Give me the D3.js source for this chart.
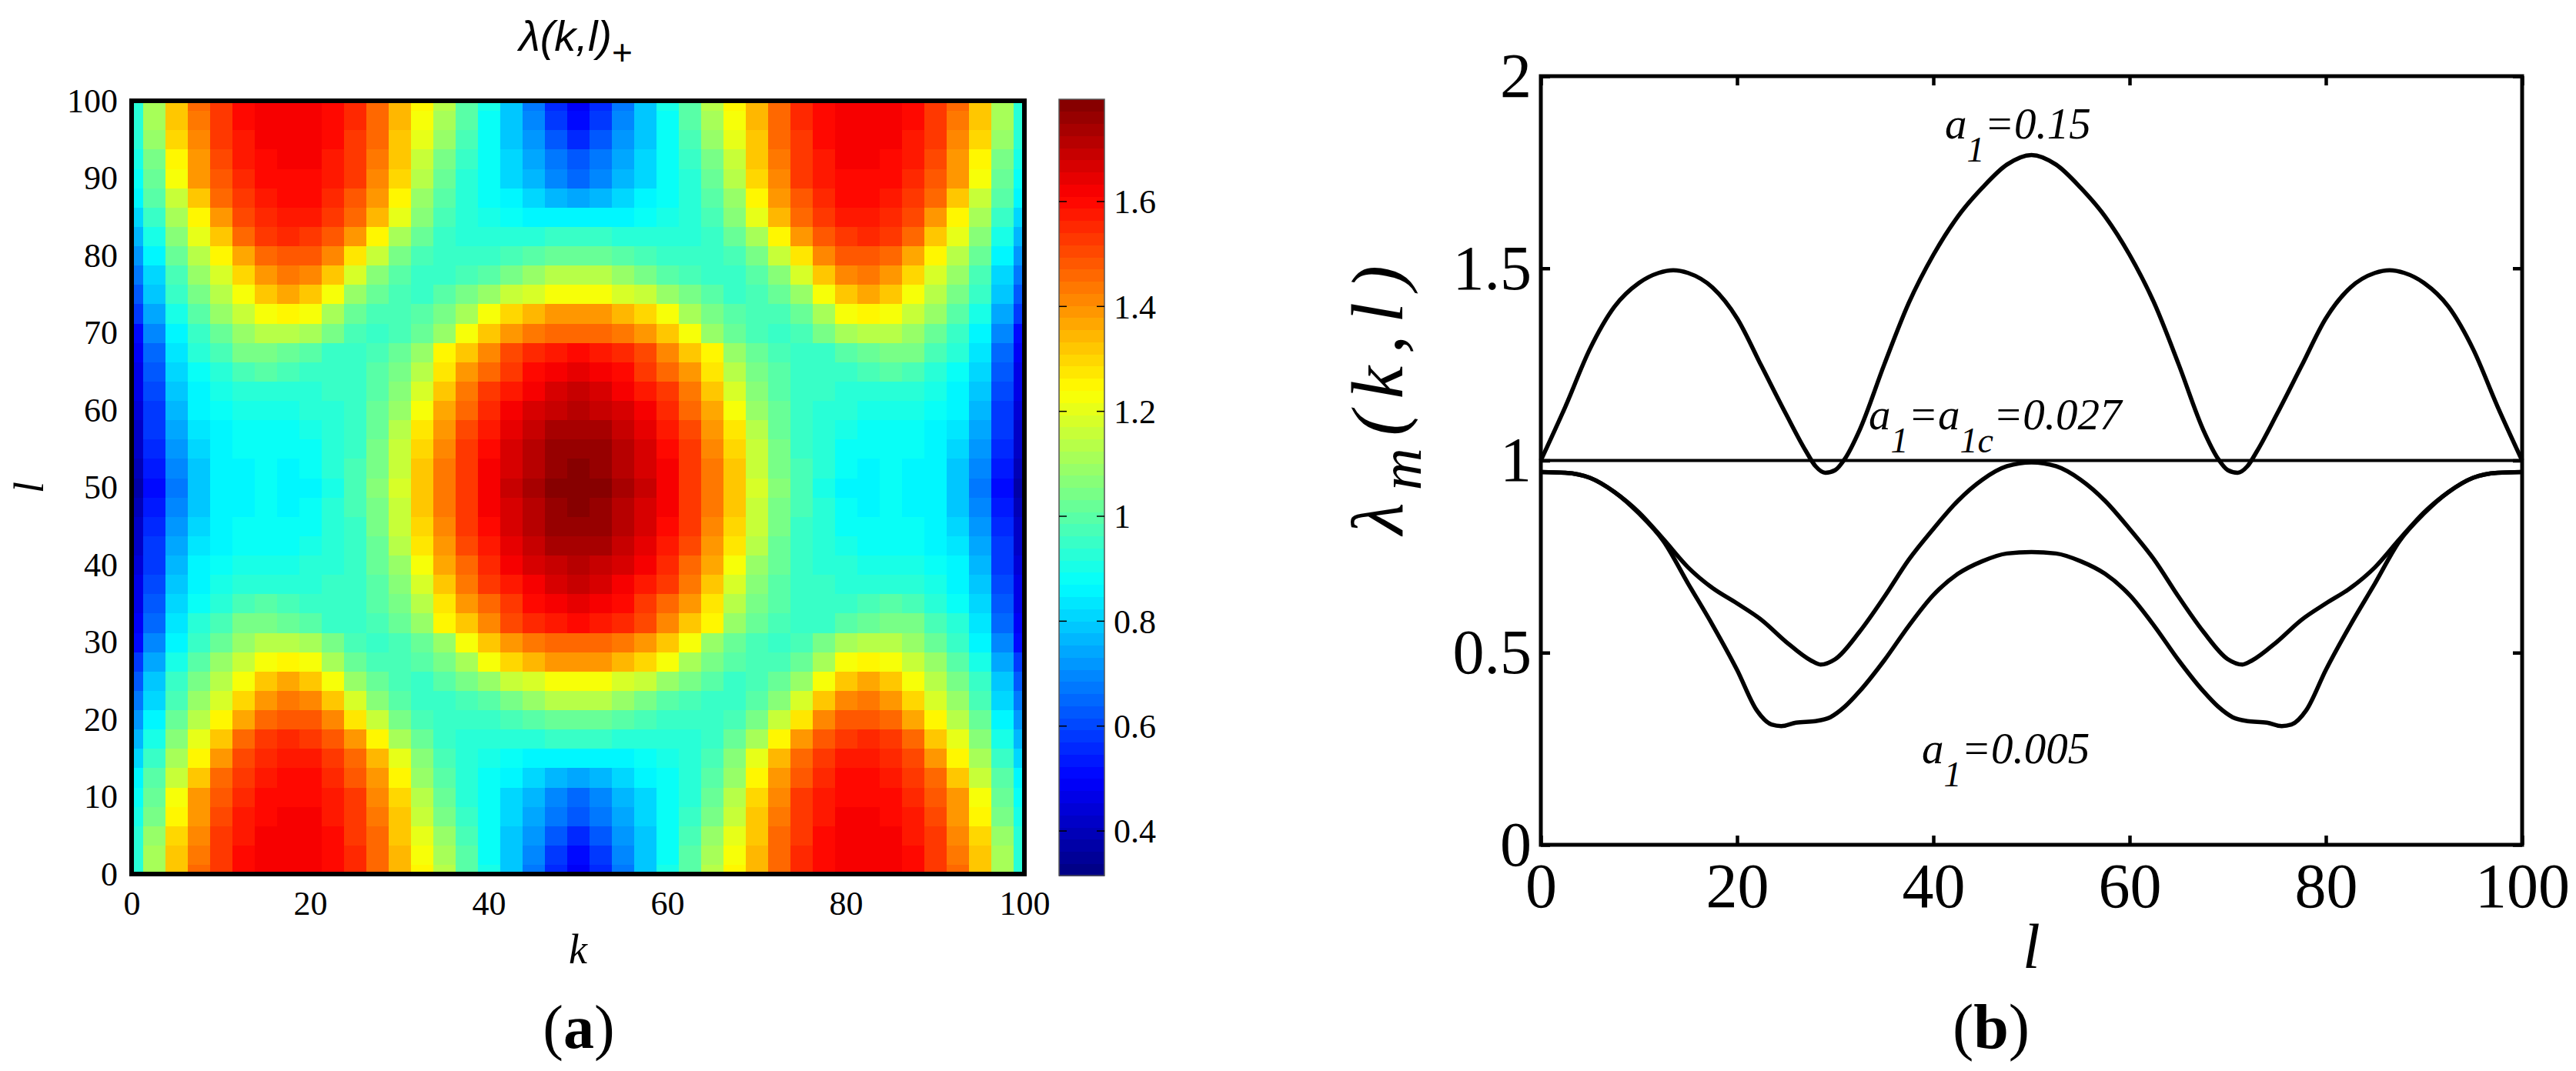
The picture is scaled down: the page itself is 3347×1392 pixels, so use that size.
<!DOCTYPE html>
<html>
<head>
<meta charset="utf-8">
<script src="https://cdn.jsdelivr.net/npm/d3@7"></script>
<style>
  body { margin: 0; background: #fff; }
  svg text { font-family: "Liberation Serif", "Times New Roman", serif; fill: #000; }
</style>
</head>
<body>
<svg id="fig" width="3347" height="1392"></svg>
<script>
// ---------- data: panel (a), lambda(k,l)+ ----------
const kValues = [0, 2.5, 5, 7.5, 10, 12.5, 15, 17.5, 20, 22.5, 25, 27.5, 30, 32.5, 35, 37.5, 40, 42.5, 45, 47.5, 50,
  52.5, 55, 57.5, 60, 62.5, 65, 67.5, 70, 72.5, 75, 77.5, 80, 82.5, 85, 87.5, 90, 92.5, 95, 97.5, 100];
const lValues = [0, 2.5, 5, 7.5, 10, 12.5, 15, 17.5, 20, 22.5, 25, 27.5, 30, 32.5, 35, 37.5, 40, 42.5, 45, 47.5, 50,
  52.5, 55, 57.5, 60, 62.5, 65, 67.5, 70, 72.5, 75, 77.5, 80, 82.5, 85, 87.5, 90, 92.5, 95, 97.5, 100];
// one row per l value (l = 0 first), one column per k value
const lambdaGrid = [
  [0.93,1.12,1.33,1.45,1.53,1.59,1.61,1.62,1.62,1.60,1.55,1.47,1.35,1.24,1.13,1.00,0.90,0.78,0.67,0.55,0.49,0.55,0.67,0.78,0.90,1.00,1.13,1.24,1.35,1.47,1.55,1.60,1.62,1.62,1.61,1.59,1.53,1.45,1.33,1.12,0.93],
  [0.93,1.11,1.32,1.44,1.53,1.59,1.61,1.62,1.62,1.60,1.55,1.46,1.34,1.22,1.11,0.99,0.89,0.79,0.69,0.58,0.52,0.58,0.69,0.79,0.89,0.99,1.11,1.22,1.34,1.46,1.55,1.60,1.62,1.62,1.61,1.59,1.53,1.44,1.32,1.11,0.93],
  [0.92,1.09,1.30,1.42,1.52,1.58,1.61,1.62,1.61,1.59,1.54,1.45,1.33,1.20,1.08,0.97,0.89,0.80,0.71,0.62,0.56,0.62,0.71,0.80,0.89,0.97,1.08,1.20,1.33,1.45,1.54,1.59,1.61,1.62,1.61,1.58,1.52,1.42,1.30,1.09,0.92],
  [0.90,1.05,1.26,1.40,1.50,1.57,1.60,1.61,1.61,1.58,1.53,1.44,1.31,1.16,1.04,0.95,0.88,0.81,0.74,0.67,0.62,0.67,0.74,0.81,0.88,0.95,1.04,1.16,1.31,1.44,1.53,1.58,1.61,1.61,1.60,1.57,1.50,1.40,1.26,1.05,0.90],
  [0.88,1.03,1.22,1.38,1.48,1.56,1.59,1.60,1.60,1.58,1.52,1.42,1.30,1.14,1.02,0.93,0.88,0.82,0.76,0.70,0.66,0.70,0.76,0.82,0.88,0.93,1.02,1.14,1.30,1.42,1.52,1.58,1.60,1.60,1.59,1.56,1.48,1.38,1.22,1.03,0.88],
  [0.85,0.99,1.17,1.33,1.45,1.54,1.58,1.59,1.59,1.56,1.49,1.38,1.25,1.10,0.99,0.92,0.89,0.85,0.81,0.77,0.75,0.77,0.81,0.85,0.89,0.92,0.99,1.10,1.25,1.38,1.49,1.56,1.59,1.59,1.58,1.54,1.45,1.33,1.17,0.99,0.85],
  [0.81,0.94,1.11,1.26,1.40,1.50,1.56,1.58,1.58,1.54,1.46,1.34,1.20,1.06,0.97,0.93,0.90,0.88,0.87,0.86,0.85,0.86,0.87,0.88,0.90,0.93,0.97,1.06,1.20,1.34,1.46,1.54,1.58,1.58,1.56,1.50,1.40,1.26,1.11,0.94,0.81],
  [0.77,0.90,1.06,1.20,1.33,1.45,1.52,1.55,1.54,1.48,1.38,1.25,1.12,1.01,0.95,0.93,0.92,0.92,0.93,0.94,0.94,0.94,0.93,0.92,0.92,0.93,0.95,1.01,1.12,1.25,1.38,1.48,1.54,1.55,1.52,1.45,1.33,1.20,1.06,0.90,0.77],
  [0.72,0.86,1.02,1.14,1.24,1.37,1.45,1.49,1.49,1.41,1.27,1.15,1.05,0.98,0.95,0.94,0.95,0.97,0.99,1.01,1.03,1.01,0.99,0.97,0.95,0.94,0.95,0.98,1.05,1.15,1.27,1.41,1.49,1.49,1.45,1.37,1.24,1.14,1.02,0.86,0.72],
  [0.67,0.82,0.98,1.09,1.19,1.30,1.38,1.43,1.42,1.33,1.19,1.07,0.99,0.95,0.95,0.97,1.00,1.05,1.09,1.13,1.14,1.13,1.09,1.05,1.00,0.97,0.95,0.95,0.99,1.07,1.19,1.33,1.42,1.43,1.38,1.30,1.19,1.09,0.98,0.82,0.67],
  [0.62,0.78,0.94,1.04,1.14,1.23,1.32,1.36,1.33,1.23,1.10,1.01,0.97,0.96,0.99,1.04,1.10,1.15,1.19,1.22,1.23,1.22,1.19,1.15,1.10,1.04,0.99,0.96,0.97,1.01,1.10,1.23,1.33,1.36,1.32,1.23,1.14,1.04,0.94,0.78,0.62],
  [0.57,0.74,0.90,0.99,1.08,1.16,1.23,1.26,1.22,1.12,1.03,0.98,0.97,0.99,1.05,1.12,1.22,1.30,1.35,1.38,1.39,1.38,1.35,1.30,1.22,1.12,1.05,0.99,0.97,0.98,1.03,1.12,1.22,1.26,1.23,1.16,1.08,0.99,0.90,0.74,0.57],
  [0.52,0.70,0.86,0.95,1.02,1.09,1.13,1.14,1.11,1.04,0.98,0.96,0.98,1.03,1.10,1.22,1.32,1.40,1.44,1.46,1.47,1.46,1.44,1.40,1.32,1.22,1.10,1.03,0.98,0.96,0.98,1.04,1.11,1.14,1.13,1.09,1.02,0.95,0.86,0.70,0.52],
  [0.49,0.66,0.84,0.92,0.98,1.04,1.05,1.03,0.99,0.96,0.96,0.98,1.02,1.10,1.24,1.33,1.42,1.50,1.55,1.57,1.59,1.57,1.55,1.50,1.42,1.33,1.24,1.10,1.02,0.98,0.96,0.96,0.99,1.03,1.05,1.04,0.98,0.92,0.84,0.66,0.49],
  [0.47,0.63,0.82,0.89,0.93,0.97,0.99,0.97,0.95,0.95,0.96,0.99,1.04,1.14,1.27,1.38,1.46,1.54,1.60,1.63,1.64,1.63,1.60,1.54,1.46,1.38,1.27,1.14,1.04,0.99,0.96,0.95,0.95,0.97,0.99,0.97,0.93,0.89,0.82,0.63,0.47],
  [0.46,0.61,0.80,0.87,0.90,0.92,0.93,0.93,0.93,0.94,0.96,1.00,1.07,1.19,1.32,1.43,1.52,1.58,1.63,1.67,1.68,1.67,1.63,1.58,1.52,1.43,1.32,1.19,1.07,1.00,0.96,0.94,0.93,0.93,0.93,0.92,0.90,0.87,0.80,0.61,0.46],
  [0.45,0.59,0.77,0.85,0.88,0.90,0.91,0.91,0.92,0.93,0.96,1.01,1.10,1.23,1.36,1.47,1.56,1.61,1.66,1.70,1.71,1.70,1.66,1.61,1.56,1.47,1.36,1.23,1.10,1.01,0.96,0.93,0.92,0.91,0.91,0.90,0.88,0.85,0.77,0.59,0.45],
  [0.43,0.57,0.75,0.84,0.87,0.89,0.89,0.89,0.90,0.92,0.96,1.03,1.13,1.27,1.39,1.50,1.58,1.64,1.69,1.73,1.74,1.73,1.69,1.64,1.58,1.50,1.39,1.27,1.13,1.03,0.96,0.92,0.90,0.89,0.89,0.89,0.87,0.84,0.75,0.57,0.43],
  [0.42,0.55,0.72,0.82,0.86,0.88,0.88,0.88,0.89,0.92,0.96,1.04,1.15,1.29,1.42,1.52,1.60,1.66,1.71,1.75,1.76,1.75,1.71,1.66,1.60,1.52,1.42,1.29,1.15,1.04,0.96,0.92,0.89,0.88,0.88,0.88,0.86,0.82,0.72,0.55,0.42],
  [0.40,0.53,0.69,0.80,0.85,0.87,0.88,0.87,0.88,0.92,0.97,1.05,1.17,1.31,1.43,1.53,1.61,1.67,1.72,1.77,1.78,1.77,1.72,1.67,1.61,1.53,1.43,1.31,1.17,1.05,0.97,0.92,0.88,0.87,0.88,0.87,0.85,0.80,0.69,0.53,0.40],
  [0.38,0.52,0.67,0.79,0.85,0.87,0.88,0.87,0.87,0.91,0.97,1.06,1.18,1.32,1.44,1.54,1.61,1.68,1.73,1.78,1.79,1.78,1.73,1.68,1.61,1.54,1.44,1.32,1.18,1.06,0.97,0.91,0.87,0.87,0.88,0.87,0.85,0.79,0.67,0.52,0.38],
  [0.40,0.53,0.69,0.80,0.85,0.87,0.88,0.87,0.88,0.92,0.97,1.05,1.17,1.31,1.43,1.53,1.61,1.67,1.72,1.77,1.78,1.77,1.72,1.67,1.61,1.53,1.43,1.31,1.17,1.05,0.97,0.92,0.88,0.87,0.88,0.87,0.85,0.80,0.69,0.53,0.40],
  [0.42,0.55,0.72,0.82,0.86,0.88,0.88,0.88,0.89,0.92,0.96,1.04,1.15,1.29,1.42,1.52,1.60,1.66,1.71,1.75,1.76,1.75,1.71,1.66,1.60,1.52,1.42,1.29,1.15,1.04,0.96,0.92,0.89,0.88,0.88,0.88,0.86,0.82,0.72,0.55,0.42],
  [0.43,0.57,0.75,0.84,0.87,0.89,0.89,0.89,0.90,0.92,0.96,1.03,1.13,1.27,1.39,1.50,1.58,1.64,1.69,1.73,1.74,1.73,1.69,1.64,1.58,1.50,1.39,1.27,1.13,1.03,0.96,0.92,0.90,0.89,0.89,0.89,0.87,0.84,0.75,0.57,0.43],
  [0.45,0.59,0.77,0.85,0.88,0.90,0.91,0.91,0.92,0.93,0.96,1.01,1.10,1.23,1.36,1.47,1.56,1.61,1.66,1.70,1.71,1.70,1.66,1.61,1.56,1.47,1.36,1.23,1.10,1.01,0.96,0.93,0.92,0.91,0.91,0.90,0.88,0.85,0.77,0.59,0.45],
  [0.46,0.61,0.80,0.87,0.90,0.92,0.93,0.93,0.93,0.94,0.96,1.00,1.07,1.19,1.32,1.43,1.52,1.58,1.63,1.67,1.68,1.67,1.63,1.58,1.52,1.43,1.32,1.19,1.07,1.00,0.96,0.94,0.93,0.93,0.93,0.92,0.90,0.87,0.80,0.61,0.46],
  [0.47,0.63,0.82,0.89,0.93,0.97,0.99,0.97,0.95,0.95,0.96,0.99,1.04,1.14,1.27,1.38,1.46,1.54,1.60,1.63,1.64,1.63,1.60,1.54,1.46,1.38,1.27,1.14,1.04,0.99,0.96,0.95,0.95,0.97,0.99,0.97,0.93,0.89,0.82,0.63,0.47],
  [0.49,0.66,0.84,0.92,0.98,1.04,1.05,1.03,0.99,0.96,0.96,0.98,1.02,1.10,1.24,1.33,1.42,1.50,1.55,1.57,1.59,1.57,1.55,1.50,1.42,1.33,1.24,1.10,1.02,0.98,0.96,0.96,0.99,1.03,1.05,1.04,0.98,0.92,0.84,0.66,0.49],
  [0.52,0.70,0.86,0.95,1.02,1.09,1.13,1.14,1.11,1.04,0.98,0.96,0.98,1.03,1.10,1.22,1.32,1.40,1.44,1.46,1.47,1.46,1.44,1.40,1.32,1.22,1.10,1.03,0.98,0.96,0.98,1.04,1.11,1.14,1.13,1.09,1.02,0.95,0.86,0.70,0.52],
  [0.57,0.74,0.90,0.99,1.08,1.16,1.23,1.26,1.22,1.12,1.03,0.98,0.97,0.99,1.05,1.12,1.22,1.30,1.35,1.38,1.39,1.38,1.35,1.30,1.22,1.12,1.05,0.99,0.97,0.98,1.03,1.12,1.22,1.26,1.23,1.16,1.08,0.99,0.90,0.74,0.57],
  [0.62,0.78,0.94,1.04,1.14,1.23,1.32,1.36,1.33,1.23,1.10,1.01,0.97,0.96,0.99,1.04,1.10,1.15,1.19,1.22,1.23,1.22,1.19,1.15,1.10,1.04,0.99,0.96,0.97,1.01,1.10,1.23,1.33,1.36,1.32,1.23,1.14,1.04,0.94,0.78,0.62],
  [0.67,0.82,0.98,1.09,1.19,1.30,1.38,1.43,1.42,1.33,1.19,1.07,0.99,0.95,0.95,0.97,1.00,1.05,1.09,1.13,1.14,1.13,1.09,1.05,1.00,0.97,0.95,0.95,0.99,1.07,1.19,1.33,1.42,1.43,1.38,1.30,1.19,1.09,0.98,0.82,0.67],
  [0.72,0.86,1.02,1.14,1.24,1.37,1.45,1.49,1.49,1.41,1.27,1.15,1.05,0.98,0.95,0.94,0.95,0.97,0.99,1.01,1.03,1.01,0.99,0.97,0.95,0.94,0.95,0.98,1.05,1.15,1.27,1.41,1.49,1.49,1.45,1.37,1.24,1.14,1.02,0.86,0.72],
  [0.77,0.90,1.06,1.20,1.33,1.45,1.52,1.55,1.54,1.48,1.38,1.25,1.12,1.01,0.95,0.93,0.92,0.92,0.93,0.94,0.94,0.94,0.93,0.92,0.92,0.93,0.95,1.01,1.12,1.25,1.38,1.48,1.54,1.55,1.52,1.45,1.33,1.20,1.06,0.90,0.77],
  [0.81,0.94,1.11,1.26,1.40,1.50,1.56,1.58,1.58,1.54,1.46,1.34,1.20,1.06,0.97,0.93,0.90,0.88,0.87,0.86,0.85,0.86,0.87,0.88,0.90,0.93,0.97,1.06,1.20,1.34,1.46,1.54,1.58,1.58,1.56,1.50,1.40,1.26,1.11,0.94,0.81],
  [0.85,0.99,1.17,1.33,1.45,1.54,1.58,1.59,1.59,1.56,1.49,1.38,1.25,1.10,0.99,0.92,0.89,0.85,0.81,0.77,0.75,0.77,0.81,0.85,0.89,0.92,0.99,1.10,1.25,1.38,1.49,1.56,1.59,1.59,1.58,1.54,1.45,1.33,1.17,0.99,0.85],
  [0.88,1.03,1.22,1.38,1.48,1.56,1.59,1.60,1.60,1.58,1.52,1.42,1.30,1.14,1.02,0.93,0.88,0.82,0.76,0.70,0.66,0.70,0.76,0.82,0.88,0.93,1.02,1.14,1.30,1.42,1.52,1.58,1.60,1.60,1.59,1.56,1.48,1.38,1.22,1.03,0.88],
  [0.90,1.05,1.26,1.40,1.50,1.57,1.60,1.61,1.61,1.58,1.53,1.44,1.31,1.16,1.04,0.95,0.88,0.81,0.74,0.67,0.62,0.67,0.74,0.81,0.88,0.95,1.04,1.16,1.31,1.44,1.53,1.58,1.61,1.61,1.60,1.57,1.50,1.40,1.26,1.05,0.90],
  [0.92,1.09,1.30,1.42,1.52,1.58,1.61,1.62,1.61,1.59,1.54,1.45,1.33,1.20,1.08,0.97,0.89,0.80,0.71,0.62,0.56,0.62,0.71,0.80,0.89,0.97,1.08,1.20,1.33,1.45,1.54,1.59,1.61,1.62,1.61,1.58,1.52,1.42,1.30,1.09,0.92],
  [0.93,1.11,1.32,1.44,1.53,1.59,1.61,1.62,1.62,1.60,1.55,1.46,1.34,1.22,1.11,0.99,0.89,0.79,0.69,0.58,0.52,0.58,0.69,0.79,0.89,0.99,1.11,1.22,1.34,1.46,1.55,1.60,1.62,1.62,1.61,1.59,1.53,1.44,1.32,1.11,0.93],
  [0.93,1.12,1.33,1.45,1.53,1.59,1.61,1.62,1.62,1.60,1.55,1.47,1.35,1.24,1.13,1.00,0.90,0.78,0.67,0.55,0.49,0.55,0.67,0.78,0.90,1.00,1.13,1.24,1.35,1.47,1.55,1.60,1.62,1.62,1.61,1.59,1.53,1.45,1.33,1.12,0.93]
];
const colorMin = 0.315;
const colorMax = 1.795;
const heatXTicks = [0, 20, 40, 60, 80, 100];
const heatYTicks = [0, 10, 20, 30, 40, 50, 60, 70, 80, 90, 100];
const colorbarTicks = [0.4, 0.6, 0.8, 1, 1.2, 1.4, 1.6];

// ---------- data: panel (b), lambda_m(k,l) against l ----------
const upperL = [0, 2.5, 5, 7.5, 10, 12, 13.5, 15, 17.5, 20, 22.5, 25, 27, 28, 29, 30, 31, 32.5, 35, 37.5, 40, 42.5, 45, 47.5, 50,
  52.5, 55, 57.5, 60, 62.5, 65, 67.5, 69, 70, 71, 72, 73, 75, 77.5, 80, 82.5, 85, 86.5, 88, 90, 92.5, 95, 97.5, 100];
const upperV = [1.00, 1.14, 1.29, 1.40, 1.462, 1.488, 1.495, 1.488, 1.45, 1.37, 1.245, 1.12, 1.025, 0.985, 0.968, 0.975, 1.005, 1.08, 1.25, 1.41, 1.535, 1.635, 1.71, 1.77, 1.795,
  1.77, 1.71, 1.635, 1.535, 1.41, 1.25, 1.08, 1.005, 0.975, 0.968, 0.985, 1.025, 1.12, 1.245, 1.37, 1.45, 1.488, 1.495, 1.488, 1.462, 1.40, 1.29, 1.14, 1.00];
const criticalL = [0, 100];
const criticalV = [1, 1];
const middleL = [0, 2.5, 5, 7.5, 10, 12.5, 15, 17.5, 20, 22.5, 25, 27.5, 28.5, 30, 32.5, 35, 37.5, 40, 42.5, 45, 47.5, 50,
  52.5, 55, 57.5, 60, 62.5, 65, 67.5, 70, 71.5, 72.5, 75, 77.5, 80, 82.5, 85, 87.5, 90, 92.5, 95, 97.5, 100];
const middleV = [0.970, 0.968, 0.955, 0.918, 0.865, 0.795, 0.722, 0.668, 0.628, 0.585, 0.528, 0.480, 0.469, 0.483, 0.555, 0.645, 0.742, 0.822, 0.895, 0.950, 0.985, 0.995,
  0.985, 0.950, 0.895, 0.822, 0.742, 0.645, 0.555, 0.483, 0.469, 0.480, 0.528, 0.585, 0.628, 0.668, 0.722, 0.795, 0.865, 0.918, 0.955, 0.968, 0.970];
const lowerL = [0, 2.5, 5, 7.5, 10, 12.5, 15, 17.5, 20, 22, 23.5, 24.5, 26, 28, 29.5, 31, 32.5, 35, 37.5, 40, 42.5, 45, 47.5, 50,
  52.5, 55, 57.5, 60, 62.5, 65, 67.5, 69, 70.5, 72, 74, 75.5, 76.5, 78, 80, 82.5, 85, 87.5, 90, 92.5, 95, 97.5, 100];
const lowerV = [0.970, 0.968, 0.955, 0.918, 0.862, 0.79, 0.68, 0.572, 0.455, 0.35, 0.313, 0.309, 0.318, 0.322, 0.332, 0.36, 0.40, 0.48, 0.57, 0.65, 0.705, 0.738, 0.758, 0.762,
  0.758, 0.738, 0.705, 0.65, 0.57, 0.48, 0.40, 0.36, 0.332, 0.322, 0.318, 0.309, 0.313, 0.35, 0.455, 0.572, 0.68, 0.79, 0.862, 0.918, 0.955, 0.968, 0.970];
const lineXTicks = [0, 20, 40, 60, 80, 100];
const lineYTicks = [0, 0.5, 1, 1.5, 2];

const svg = d3.select("#fig");

// MATLAB style jet, 64 steps
function jet(v) {
  const n = 64;
  let i = Math.floor(((v - colorMin) / (colorMax - colorMin)) * n);
  i = Math.max(0, Math.min(n - 1, i));
  const t = (i + 0.5) / n;
  const c = (x) => Math.round(255 * Math.max(0, Math.min(1, x)));
  return d3.rgb(c(1.5 - Math.abs(4 * t - 3)), c(1.5 - Math.abs(4 * t - 2)), c(1.5 - Math.abs(4 * t - 1))).formatHex();
}

// ================= panel (a) =================
const heatX = d3.scaleLinear().domain([0, 100]).range([171, 1331]);
const heatY = d3.scaleLinear().domain([0, 100]).range([1136, 131]);
const cbY = d3.scaleLinear().domain([colorMin, colorMax]).range([1138, 129]);

svg.append("clipPath").attr("id", "heatClip")
  .append("rect")
  .attr("x", heatX(0)).attr("y", heatY(100))
  .attr("width", heatX(100) - heatX(0)).attr("height", heatY(0) - heatY(100));

const cells = [];
lValues.forEach((l, i) => kValues.forEach((k, j) => cells.push({ k, l, v: lambdaGrid[i][j] })));
const halfK = (kValues[1] - kValues[0]) / 2;
const halfL = (lValues[1] - lValues[0]) / 2;

svg.append("g")
  .attr("clip-path", "url(#heatClip)")
  .selectAll("rect")
  .data(cells)
  .enter()
  .append("rect")
  .attr("x", (d) => heatX(d.k - halfK))
  .attr("y", (d) => heatY(d.l + halfL))
  .attr("width", (d) => heatX(d.k + halfK) - heatX(d.k - halfK) + 0.6)
  .attr("height", (d) => heatY(d.l - halfL) - heatY(d.l + halfL) + 0.6)
  .attr("fill", (d) => jet(d.v))
  .attr("shape-rendering", "crispEdges");

svg.append("rect")
  .attr("x", heatX(0)).attr("y", heatY(100))
  .attr("width", heatX(100) - heatX(0)).attr("height", heatY(0) - heatY(100))
  .attr("fill", "none").attr("stroke", "#000").attr("stroke-width", 6);

// axes of the heat map (tick marks hidden under the image)
const hx = svg.append("g")
  .attr("transform", `translate(0, ${heatY(0)})`)
  .call(d3.axisBottom(heatX).tickValues(heatXTicks).tickSize(0).tickPadding(22));
const hy = svg.append("g")
  .attr("transform", `translate(${heatX(0)}, 0)`)
  .call(d3.axisLeft(heatY).tickValues(heatYTicks).tickSize(0).tickPadding(18));
[hx, hy].forEach((g) => {
  g.select(".domain").remove();
  g.attr("font-size", 44).attr("font-family", "Liberation Serif, serif");
});

svg.append("text")
  .attr("x", (heatX(0) + heatX(100)) / 2).attr("y", 1252)
  .attr("text-anchor", "middle").attr("font-size", 54).attr("font-style", "italic")
  .text("k");
svg.append("text")
  .attr("transform", `translate(56, ${(heatY(0) + heatY(100)) / 2}) rotate(-90)`)
  .attr("text-anchor", "middle").attr("font-size", 54).attr("font-style", "italic")
  .text("l");

const title = svg.append("text")
  .attr("x", 748).attr("y", 66)
  .attr("text-anchor", "middle")
  .style("font-family", "'Liberation Sans', Arial, sans-serif")
  .attr("font-size", 56).attr("font-style", "italic");
title.append("tspan").text("λ(k,l)");
title.append("tspan").attr("dy", 18).attr("font-size", 46).attr("font-style", "normal").text("+");

// colour bar
const bandStep = (colorMax - colorMin) / 64;
svg.append("g")
  .selectAll("rect")
  .data(d3.range(64))
  .enter()
  .append("rect")
  .attr("x", 1376)
  .attr("width", 59)
  .attr("y", (i) => cbY(colorMin + (i + 1) * bandStep))
  .attr("height", (i) => cbY(colorMin + i * bandStep) - cbY(colorMin + (i + 1) * bandStep) + 0.6)
  .attr("fill", (i) => jet(colorMin + (i + 0.5) * bandStep))
  .attr("shape-rendering", "crispEdges");
svg.append("rect")
  .attr("x", 1376).attr("y", cbY(colorMax)).attr("width", 59).attr("height", cbY(colorMin) - cbY(colorMax))
  .attr("fill", "none").attr("stroke", "#555").attr("stroke-width", 1.5);
const cbTick = svg.append("g").selectAll("g").data(colorbarTicks).enter().append("g");
cbTick.append("line")
  .attr("x1", 1376).attr("x2", 1386).attr("y1", (d) => cbY(d)).attr("y2", (d) => cbY(d))
  .attr("stroke", "#000").attr("stroke-width", 1.5);
cbTick.append("line")
  .attr("x1", 1425).attr("x2", 1435).attr("y1", (d) => cbY(d)).attr("y2", (d) => cbY(d))
  .attr("stroke", "#000").attr("stroke-width", 1.5);
cbTick.append("text")
  .attr("x", 1447).attr("y", (d) => cbY(d)).attr("dy", "0.35em")
  .attr("font-size", 44)
  .text((d) => String(d));

svg.append("text")
  .attr("x", 752).attr("y", 1362).attr("text-anchor", "middle").attr("font-size", 80)
  .html('(<tspan font-weight="bold">a</tspan>)');

// ================= panel (b) =================
const lineX = d3.scaleLinear().domain([0, 100]).range([2002, 3277]);
const lineY = d3.scaleLinear().domain([0, 2]).range([1098, 99]);

const axB = svg.append("g").attr("transform", `translate(0, ${lineY(0)})`)
  .call(d3.axisBottom(lineX).tickValues(lineXTicks).tickSize(-12).tickPadding(23).tickFormat((d) => String(d)));
const axT = svg.append("g").attr("transform", `translate(0, ${lineY(2)})`)
  .call(d3.axisTop(lineX).tickValues(lineXTicks).tickSize(-12).tickFormat(""));
const axL = svg.append("g").attr("transform", `translate(${lineX(0)}, 0)`)
  .call(d3.axisLeft(lineY).tickValues(lineYTicks).tickSize(-12).tickPadding(12).tickFormat((d) => String(d)));
const axR = svg.append("g").attr("transform", `translate(${lineX(100)}, 0)`)
  .call(d3.axisRight(lineY).tickValues(lineYTicks).tickSize(-12).tickFormat(""));
[axB, axT, axL, axR].forEach((g) => {
  g.select(".domain").remove();
  g.attr("font-size", 82).attr("font-family", "Liberation Serif, serif");
  g.selectAll(".tick line").attr("stroke-width", 4.5);
});

const line = d3.line()
  .x((d) => lineX(d.l))
  .y((d) => lineY(d.v))
  .curve(d3.curveMonotoneX);
const zip = (ls, vs) => ls.map((l, i) => ({ l, v: vs[i] }));

svg.append("path").datum(zip(criticalL, criticalV))
  .attr("d", line).attr("fill", "none").attr("stroke", "#000").attr("stroke-width", 4);
[[upperL, upperV], [middleL, middleV], [lowerL, lowerV]].forEach(([ls, vs]) => {
  svg.append("path").datum(zip(ls, vs))
    .attr("d", line).attr("fill", "none").attr("stroke", "#000")
    .attr("stroke-width", 5.5).attr("stroke-linejoin", "round");
});

svg.append("rect")
  .attr("x", lineX(0)).attr("y", lineY(2))
  .attr("width", lineX(100) - lineX(0)).attr("height", lineY(0) - lineY(2))
  .attr("fill", "none").attr("stroke", "#000").attr("stroke-width", 5);

// curve labels: pieces of [text, isSubscript]
function label(x, y, parts) {
  const t = svg.append("text").attr("x", x).attr("y", y)
    .attr("font-size", 57).attr("font-style", "italic");
  let low = false;
  parts.forEach(([s, sub]) => {
    const dy = sub && !low ? 30 : !sub && low ? -30 : 0;
    low = !!sub;
    t.append("tspan").attr("dy", dy).attr("font-size", sub ? 46 : 57).text(s);
  });
}
label(2527, 180, [["a", 0], ["1", 1], ["=0.15", 0]]);
label(2428, 558, [["a", 0], ["1", 1], ["=a", 0], ["1c", 1], ["=0.027", 0]]);
label(2497, 992, [["a", 0], ["1", 1], ["=0.005", 0]]);

svg.append("text")
  .attr("x", (lineX(0) + lineX(100)) / 2).attr("y", 1258)
  .attr("text-anchor", "middle").attr("font-size", 82).attr("font-style", "italic")
  .text("l");

const ylab = svg.append("text")
  .attr("transform", `translate(1822, 520) rotate(-90)`)
  .attr("text-anchor", "middle").attr("font-size", 96).attr("font-style", "italic")
  .attr("textLength", 350).attr("lengthAdjust", "spacing");
ylab.append("tspan").text("λ");
ylab.append("tspan").attr("dy", 24).attr("font-size", 76).text("m");
ylab.append("tspan").attr("dy", -24).text("(k,l)");

svg.append("text")
  .attr("x", 2587).attr("y", 1362).attr("text-anchor", "middle").attr("font-size", 82)
  .html('(<tspan font-weight="bold">b</tspan>)');
</script>
</body>
</html>
